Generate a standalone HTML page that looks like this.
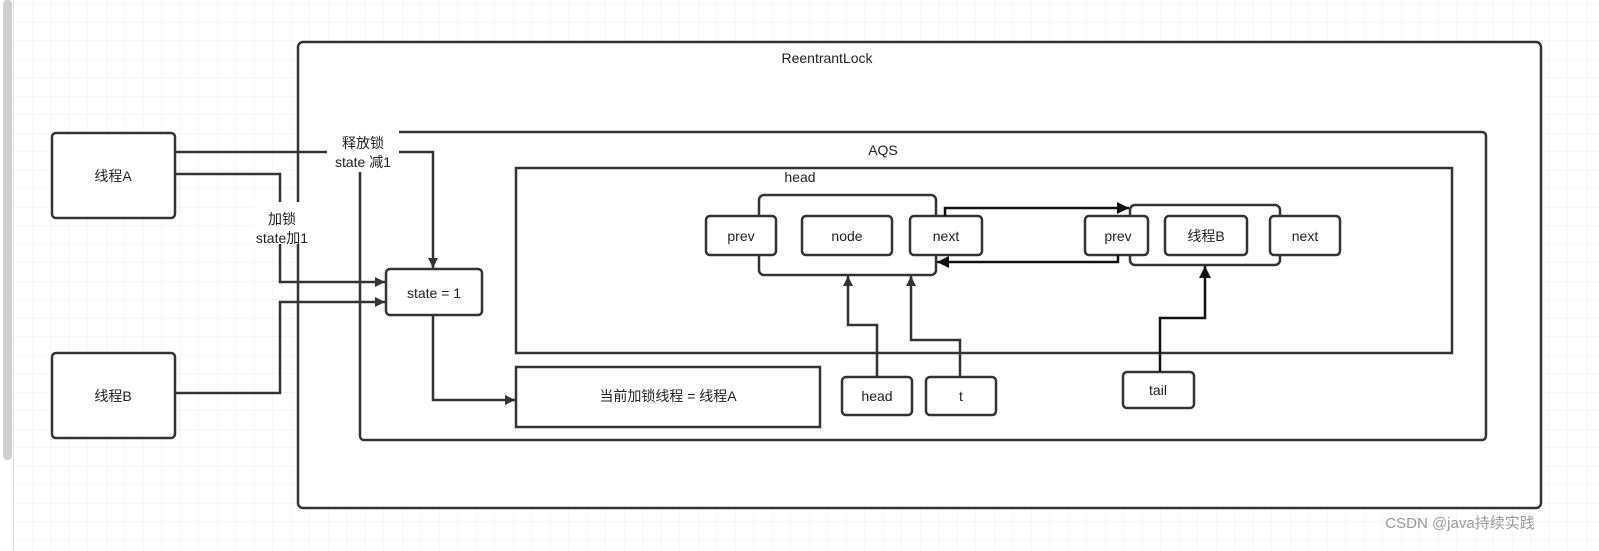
<!DOCTYPE html>
<html><head><meta charset="utf-8"><style>
html,body{margin:0;padding:0;background:#fff;}
svg{display:block;}
text{font-family:"Liberation Sans","Noto Sans CJK SC",sans-serif;font-size:14px;fill:#222;}
</style></head><body>
<svg width="1599" height="551" viewBox="0 0 1599 551" xmlns="http://www.w3.org/2000/svg">
<defs>
<pattern id="g" width="18.5" height="18.5" patternUnits="userSpaceOnUse" x="14" y="4">
<path d="M18.5 0V18.5H0" fill="none" stroke="#ececec" stroke-width="1"/>
</pattern>
<marker id="a" viewBox="0 0 10 10" refX="10" refY="5" markerWidth="10" markerHeight="10" markerUnits="userSpaceOnUse" orient="auto">
<path d="M0 0L10 5L0 10Z" fill="#333"/></marker>
<marker id="b" viewBox="0 0 10 10" refX="10" refY="5" markerWidth="12" markerHeight="12" markerUnits="userSpaceOnUse" orient="auto">
<path d="M0 0L10 5L0 10Z" fill="#111"/></marker>
</defs>
<rect width="1599" height="551" fill="#fff"/>
<rect x="14" width="1585" height="551" fill="url(#g)"/>
<rect x="3" y="0" width="9" height="460" rx="4" fill="#cfcfcf"/>
<line x1="13.5" y1="0" x2="13.5" y2="551" stroke="#ddd"/>
<g fill="#fff" stroke="#333" stroke-width="2.5">
<rect x="298" y="42" width="1243" height="466" rx="5"/>
<rect x="360" y="132" width="1126" height="308" rx="4"/>
<rect x="516" y="168" width="936" height="185" rx="0"/>
<rect x="52" y="133" width="123" height="85" rx="4"/>
<rect x="52" y="353" width="123" height="85" rx="4"/>
<rect x="386" y="269" width="96" height="46" rx="4"/>
<rect x="516" y="367" width="304" height="60" rx="0"/>
<rect x="759" y="195" width="177" height="80" rx="5"/>
<rect x="706" y="216" width="70" height="39" rx="4"/>
<rect x="802" y="216" width="90" height="39" rx="4"/>
<rect x="910" y="216" width="72" height="39" rx="4"/>
<rect x="1130" y="205" width="150" height="60" rx="5"/>
<rect x="1085" y="216" width="63" height="39" rx="4"/>
<rect x="1165" y="216" width="82" height="39" rx="4"/>
<rect x="1270" y="216" width="70" height="39" rx="4"/>
<rect x="842" y="377" width="70" height="38" rx="4"/>
<rect x="926" y="377" width="70" height="38" rx="4"/>
<rect x="1123" y="372" width="71" height="36" rx="4"/>
</g>
<rect x="834" y="140" width="100" height="20" fill="#fff"/>
<g fill="none" stroke="#333" stroke-width="2.5">
<path d="M175 152H433V268" marker-end="url(#a)"/>
<path d="M175 174H280V282H385" marker-end="url(#a)"/>
<path d="M175 393H280V302H385" marker-end="url(#a)"/>
<path d="M433 315V400H515" marker-end="url(#a)"/>
<path d="M877 377V325H848V276" marker-end="url(#a)"/>
<path d="M960 377V340H911V276" marker-end="url(#a)"/>
</g>
<g fill="none" stroke="#111" stroke-width="2.5">
<path d="M945 216V208H1129" marker-end="url(#b)"/>
<path d="M1118 255V262H937" marker-end="url(#b)"/>
<path d="M1160 372V318H1205V266" marker-end="url(#b)"/>
</g>
<rect x="327" y="130" width="72" height="42" fill="#fff"/>
<rect x="254" y="202" width="56" height="42" fill="#fff"/>
<text x="827" y="63" text-anchor="middle">ReentrantLock</text>
<text x="883" y="155" text-anchor="middle">AQS</text>
<text x="800" y="182" text-anchor="middle">head</text>
<text x="363" y="148" text-anchor="middle">释放锁</text>
<text x="363" y="167" text-anchor="middle">state 减1</text>
<text x="282" y="224" text-anchor="middle">加锁</text>
<text x="282" y="243" text-anchor="middle">state加1</text>
<text x="113" y="181" text-anchor="middle">线程A</text>
<text x="113" y="401" text-anchor="middle">线程B</text>
<text x="434" y="298" text-anchor="middle">state = 1</text>
<text x="668" y="401" text-anchor="middle">当前加锁线程 =  线程A</text>
<text x="741" y="241" text-anchor="middle">prev</text>
<text x="847" y="241" text-anchor="middle">node</text>
<text x="946" y="241" text-anchor="middle">next</text>
<text x="1118" y="241" text-anchor="middle">prev</text>
<text x="1206" y="241" text-anchor="middle">线程B</text>
<text x="1305" y="241" text-anchor="middle">next</text>
<text x="877" y="401" text-anchor="middle">head</text>
<text x="961" y="401" text-anchor="middle">t</text>
<text x="1158" y="395" text-anchor="middle">tail</text>
<text x="1460" y="528" text-anchor="middle" style="font-size:15px;fill:#9a9a9a">CSDN @java持续实践</text>
</svg>
</body></html>
